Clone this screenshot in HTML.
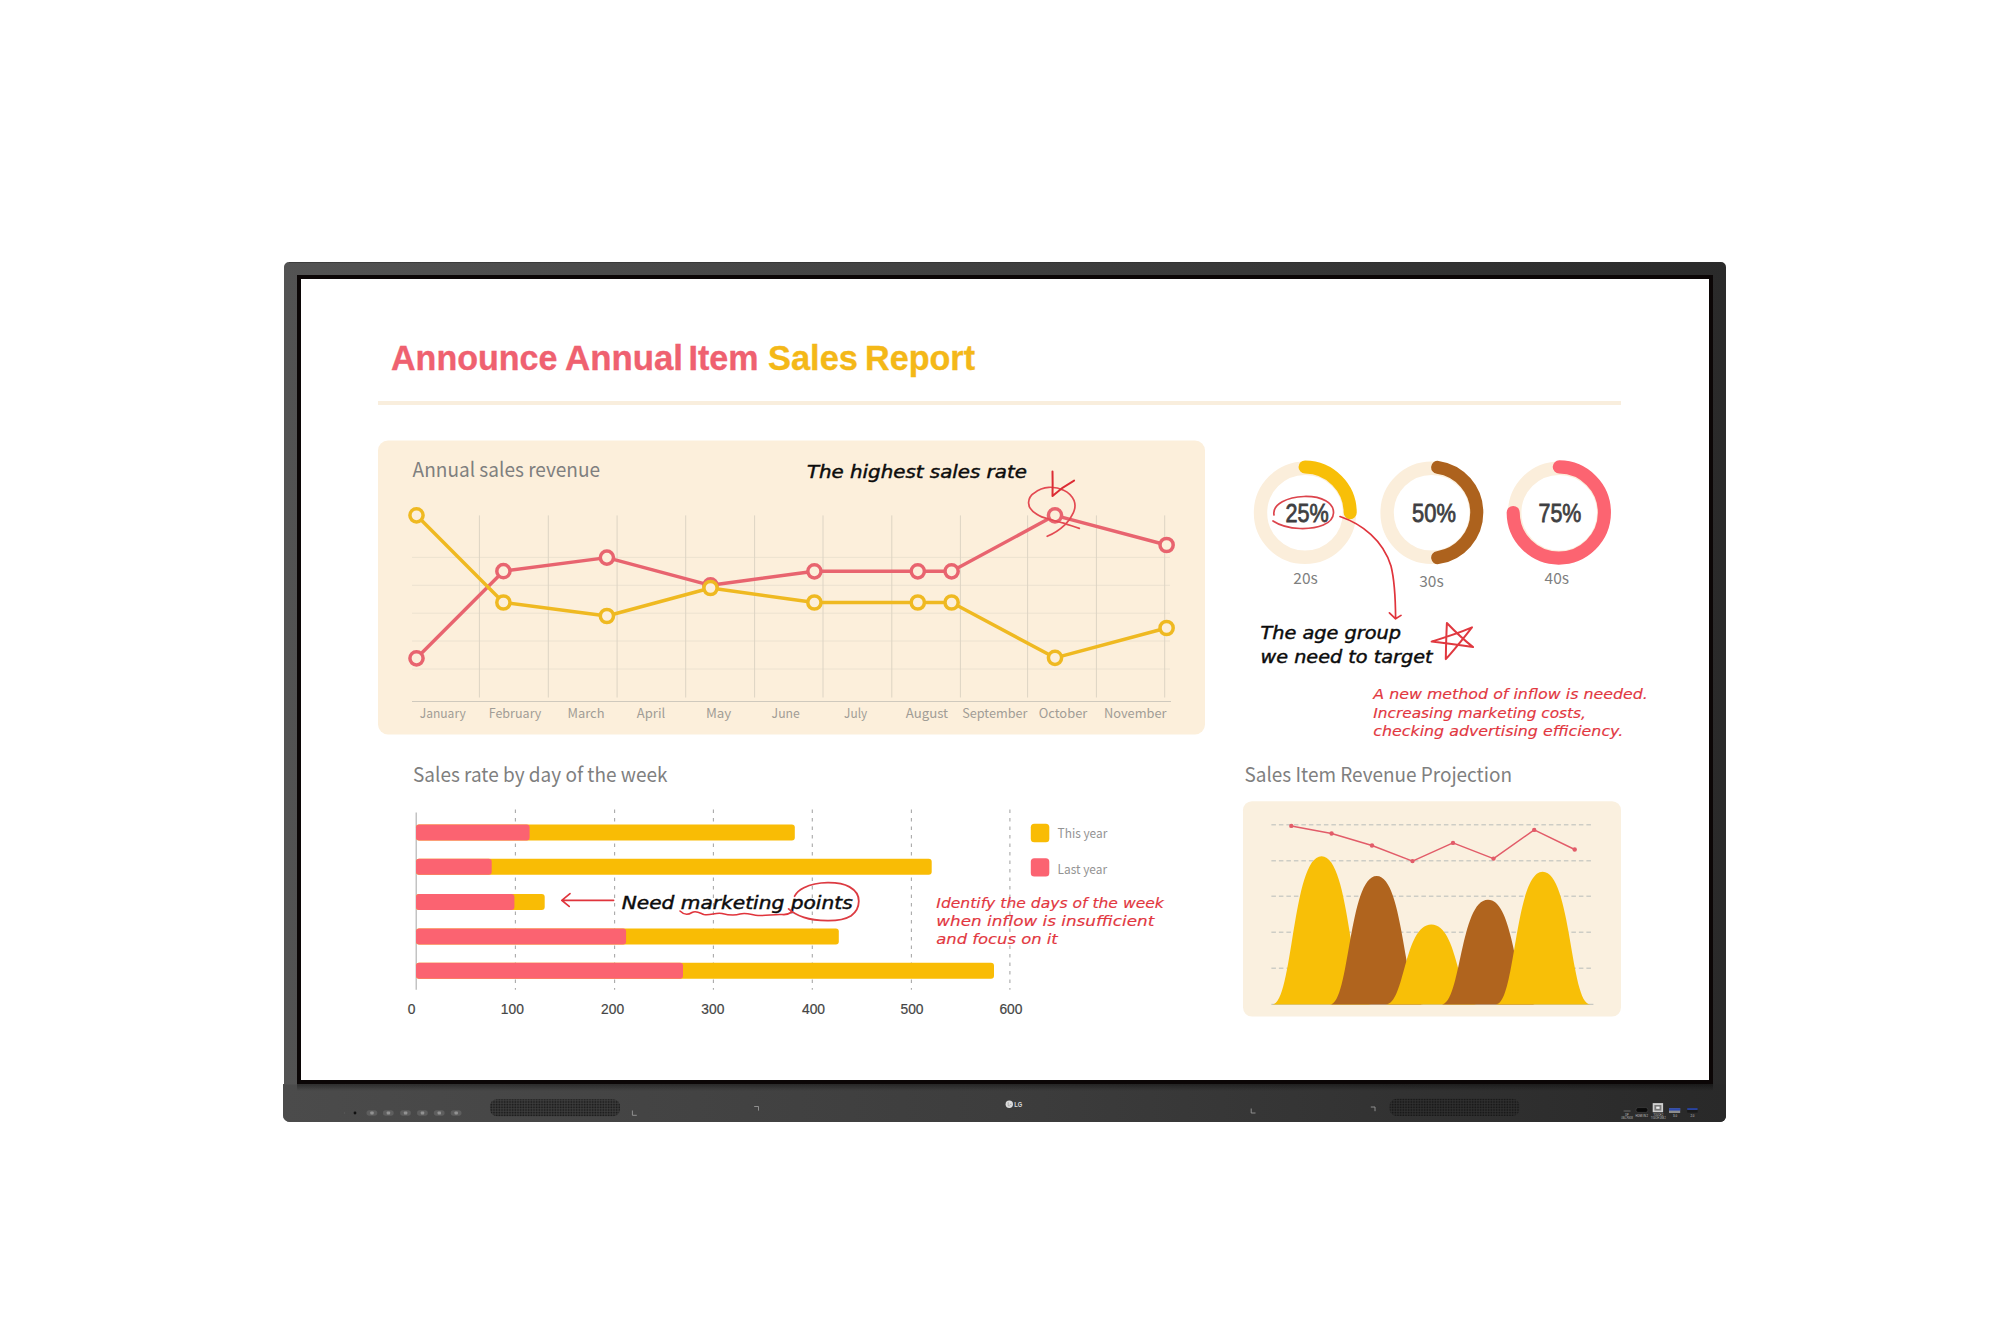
<!DOCTYPE html>
<html lang="en"><head><meta charset="utf-8"><title>Announce Annual Item Sales Report</title>
<style>
html,body{margin:0;padding:0;background:#fff;}
body{width:2010px;height:1334px;overflow:hidden;position:relative;}
svg{position:absolute;left:0;top:0;display:block;}
.g{font-family:"Noto Sans CJK KR","Noto Sans CJK SC","Liberation Sans",sans-serif;fill:#7f7f7f;}
.m{font-family:"Noto Sans CJK KR","Noto Sans CJK SC","Liberation Sans",sans-serif;fill:#a19d96;font-size:13px;}
.n{font-family:"Liberation Sans","DejaVu Sans",sans-serif;fill:#454545;font-size:13.8px;text-anchor:middle;stroke:#454545;stroke-width:.2px;}
.p{font-family:"Liberation Sans","DejaVu Sans",sans-serif;fill:#3f3f42;font-size:25.5px;stroke:#3f3f42;stroke-width:.8px;}
.hb{font-family:"DejaVu Sans","Liberation Sans",sans-serif;font-style:italic;fill:#0c0c0c;font-size:17.5px;stroke:#0c0c0c;stroke-width:.45px;}
.hr{font-family:"DejaVu Sans","Liberation Sans",sans-serif;font-style:italic;fill:#e2373f;font-size:13.5px;stroke:#e2373f;stroke-width:.15px;}
.t{font-family:"Liberation Sans","DejaVu Sans",sans-serif;font-weight:bold;font-size:35px;stroke-width:.35px;}
.pl{font-family:"Liberation Sans","DejaVu Sans",sans-serif;fill:#c9c9c9;font-size:2.6px;text-anchor:middle;}
</style></head><body>
<svg width="2010" height="1334" viewBox="0 0 2010 1334">
<defs>
<linearGradient id="fr" x1="0" y1="0" x2="1" y2="0"><stop offset="0" stop-color="#535353"/><stop offset=".5" stop-color="#3f3f3f"/><stop offset="1" stop-color="#2a2a2a"/></linearGradient>
<linearGradient id="fb" x1="0" y1="0" x2="1" y2="0"><stop offset="0" stop-color="#4b4b4b"/><stop offset=".5" stop-color="#3d3d3d"/><stop offset="1" stop-color="#292929"/></linearGradient>
<linearGradient id="sh" x1="0" y1="0" x2="0" y2="1"><stop offset="0" stop-color="#000" stop-opacity=".4"/><stop offset="1" stop-color="#000" stop-opacity="0"/></linearGradient>
<pattern id="dots" width="1.6" height="1.6" patternUnits="userSpaceOnUse"><rect width="1.6" height="1.6" fill="#414141"/><rect width="1" height="1" fill="#161616"/></pattern>
<pattern id="dots2" width="1.6" height="1.6" patternUnits="userSpaceOnUse"><rect width="1.6" height="1.6" fill="#333"/><rect width="1" height="1" fill="#131313"/></pattern>
</defs>

<g id="frame">
<path d="M289 262H1721a5 5 0 0 1 5 5V1116a6 6 0 0 1 -6 6H290a7 7 0 0 1 -7 -7V1084h1V267a5 5 0 0 1 5 -5z" fill="url(#fr)"/>
<path d="M283 1084.5H1726V1116a6 6 0 0 1 -6 6H290a7 7 0 0 1 -7 -7z" fill="url(#fb)"/>
<path d="M289 262.5H1721" stroke="#2b2b2b" stroke-width="1" opacity=".55" fill="none"/>
<rect x="297" y="1084" width="1416" height="7" fill="url(#sh)"/>
<rect x="297" y="275" width="1416" height="809" fill="#0b0606"/>
<rect x="301" y="279" width="1408" height="801" fill="#ffffff"/>
</g>
<g id="bar">
<circle cx="355" cy="1113" r="1.4" fill="#111"/>
<circle cx="344.5" cy="1113" r=".7" fill="#5c5c5c"/>
<rect x="366.5" y="1110.2" width="10.8" height="5.6" rx="2.8" fill="#5e5e5e"/>
<rect x="370.3" y="1111.4" width="3.4" height="3.2" rx=".8" fill="#929292"/>
<rect x="382.9" y="1110.2" width="10.8" height="5.6" rx="2.8" fill="#5e5e5e"/>
<rect x="386.7" y="1111.4" width="3.4" height="3.2" rx=".8" fill="#929292"/>
<rect x="400.1" y="1110.2" width="10.8" height="5.6" rx="2.8" fill="#5e5e5e"/>
<rect x="403.9" y="1111.4" width="3.4" height="3.2" rx=".8" fill="#929292"/>
<rect x="417.0" y="1110.2" width="10.8" height="5.6" rx="2.8" fill="#5e5e5e"/>
<rect x="420.8" y="1111.4" width="3.4" height="3.2" rx=".8" fill="#929292"/>
<rect x="433.8" y="1110.2" width="10.8" height="5.6" rx="2.8" fill="#5e5e5e"/>
<rect x="437.6" y="1111.4" width="3.4" height="3.2" rx=".8" fill="#929292"/>
<rect x="450.7" y="1110.2" width="10.8" height="5.6" rx="2.8" fill="#5e5e5e"/>
<rect x="454.5" y="1111.4" width="3.4" height="3.2" rx=".8" fill="#929292"/>
<rect x="490" y="1099.3" width="130" height="17" rx="7" fill="url(#dots)"/>
<rect x="1389.5" y="1098.8" width="130" height="17.2" rx="7" fill="url(#dots2)"/>
<path d="M632.4 1110.5V1115.3H636.8M754.2 1106.5H758.5V1110.6M1251.2 1108.5V1113H1255.5M1370.8 1107H1375V1111.2" fill="none" stroke="#999" stroke-width=".9"/>
<circle cx="1009.3" cy="1104.3" r="3.7" fill="#dcdcdc"/>
<path d="M1008.2 1102.2v3.6h1.7M1011.4 1104.4h-1.6" stroke="#8a8a8a" stroke-width=".6" fill="none"/>
<text x="1014.2" y="1106.8" font-family='"Liberation Sans","DejaVu Sans",sans-serif' font-weight="bold" font-size="7.4" fill="#dadada" textLength="8" lengthAdjust="spacingAndGlyphs">LG</text>
<rect x="1623.4" y="1110" width="7.4" height="1.9" rx=".9" fill="#4c4c4c"/>
<rect x="1636" y="1107.6" width="11.8" height="4.8" rx="2" fill="#0a0a0a" stroke="#4a4a4a" stroke-width=".6"/>
<rect x="1652.7" y="1103.1" width="10.4" height="9.1" fill="#cfcfcf"/>
<rect x="1654.4" y="1105" width="7" height="5.6" fill="#7a7a7a"/>
<rect x="1656.2" y="1106.6" width="3.4" height="2.2" fill="#ededed"/>
<rect x="1669" y="1108.2" width="11.2" height="4.8" fill="#8d8d8d"/><rect x="1669" y="1108.2" width="11.2" height="2.4" fill="#2c49ae"/>
<rect x="1687.2" y="1108.2" width="10.4" height="4.4" fill="#1a1a1a"/><rect x="1687.2" y="1108.2" width="10.4" height="1.7" fill="#2c49ae"/>
<text class="pl" x="1627" y="1116.2" textLength="3.4" lengthAdjust="spacingAndGlyphs">DP</text><text class="pl" x="1627" y="1118.6" textLength="11.6" lengthAdjust="spacingAndGlyphs">USB-C PD65W</text>
<text class="pl" x="1641.8" y="1117.4" textLength="12.6" lengthAdjust="spacingAndGlyphs">HDMI IN 2</text>
<text class="pl" x="1658.4" y="1116.2" textLength="10" lengthAdjust="spacingAndGlyphs">TOUCH 2</text><text class="pl" x="1658.4" y="1118.6" textLength="14.6" lengthAdjust="spacingAndGlyphs">TOUCH USB 2</text>
<text class="pl" x="1675" y="1117.4" textLength="4" lengthAdjust="spacingAndGlyphs">3.0</text><text class="pl" x="1692.4" y="1117.4" textLength="4" lengthAdjust="spacingAndGlyphs">2.0</text>
</g>
<g id="title">
<text class="t" x="391" y="369.5" fill="#ef6170" stroke="#ef6170" textLength="166.5" lengthAdjust="spacingAndGlyphs">Announce</text>
<text class="t" x="565" y="369.5" fill="#ef6170" stroke="#ef6170" textLength="118" lengthAdjust="spacingAndGlyphs">Annual</text>
<text class="t" x="688.5" y="369.5" fill="#ef6170" stroke="#ef6170" textLength="70.0" lengthAdjust="spacingAndGlyphs">Item</text>
<text class="t" x="768" y="369.5" fill="#f4b818" stroke="#f4b818" textLength="90" lengthAdjust="spacingAndGlyphs">Sales</text>
<text class="t" x="865" y="369.5" fill="#f4b818" stroke="#f4b818" textLength="110" lengthAdjust="spacingAndGlyphs">Report</text>
<rect x="378" y="401" width="1243" height="4" fill="#f9eedd"/>
</g>
<g id="linechart">
<rect x="378" y="440.5" width="827" height="294" rx="10" fill="#fcefdb"/>
<text class="g" x="412.6" y="477.2" font-size="20" textLength="187.5" lengthAdjust="spacingAndGlyphs">Annual sales revenue</text>
<path d="M412 557.4H1170M412 585.3H1170M412 613.2H1170M412 641H1170M412 669H1170" stroke="#ece2d0" stroke-width="1" fill="none"/>
<path d="M479.4 515.4V697.5M548.3 515.4V697.5M617.1 515.4V697.5M685.7 515.4V697.5M754.6 515.4V697.5M823 515.4V697.5M891.8 515.4V697.5M960.4 515.4V697.5M1027.6 515.4V697.5M1096.4 515.4V697.5M1164.7 515.4V697.5" stroke="#ddd4c4" stroke-width="1" fill="none"/>
<path d="M412 701.5H1171" stroke="#cfc9bd" stroke-width="1.2" fill="none"/>
<text class="m" x="419.7" y="717.5" textLength="46.0" lengthAdjust="spacingAndGlyphs">January</text>
<text class="m" x="488.7" y="717.5" textLength="52.7" lengthAdjust="spacingAndGlyphs">February</text>
<text class="m" x="567.5" y="717.5" textLength="37.0" lengthAdjust="spacingAndGlyphs">March</text>
<text class="m" x="636.8" y="717.5" textLength="28.4" lengthAdjust="spacingAndGlyphs">April</text>
<text class="m" x="705.9" y="717.5" textLength="25.4" lengthAdjust="spacingAndGlyphs">May</text>
<text class="m" x="771.6" y="717.5" textLength="28.2" lengthAdjust="spacingAndGlyphs">June</text>
<text class="m" x="844.1" y="717.5" textLength="23.1" lengthAdjust="spacingAndGlyphs">July</text>
<text class="m" x="905.7" y="717.5" textLength="42.4" lengthAdjust="spacingAndGlyphs">August</text>
<text class="m" x="962.2" y="717.5" textLength="65.3" lengthAdjust="spacingAndGlyphs">September</text>
<text class="m" x="1038.7" y="717.5" textLength="48.6" lengthAdjust="spacingAndGlyphs">October</text>
<text class="m" x="1104.0" y="717.5" textLength="62.6" lengthAdjust="spacingAndGlyphs">November</text>
<path d="M416.5 658.3L503.4 571.2L606.9 557.6L710.5 585.3L814.4 571.3L917.8 571.3L951.6 571.3L1055 515.3L1166.6 545" fill="none" stroke="#e8646f" stroke-width="3.45" stroke-linejoin="round"/>
<circle cx="416.5" cy="658.3" r="6.6" fill="#fcefdb" stroke="#e8646f" stroke-width="3.5"/>
<circle cx="503.4" cy="571.2" r="6.6" fill="#fcefdb" stroke="#e8646f" stroke-width="3.5"/>
<circle cx="606.9" cy="557.6" r="6.6" fill="#fcefdb" stroke="#e8646f" stroke-width="3.5"/>
<circle cx="710.5" cy="585.3" r="6.6" fill="#fcefdb" stroke="#e8646f" stroke-width="3.5"/>
<circle cx="814.4" cy="571.3" r="6.6" fill="#fcefdb" stroke="#e8646f" stroke-width="3.5"/>
<circle cx="917.8" cy="571.3" r="6.6" fill="#fcefdb" stroke="#e8646f" stroke-width="3.5"/>
<circle cx="951.6" cy="571.3" r="6.6" fill="#fcefdb" stroke="#e8646f" stroke-width="3.5"/>
<circle cx="1055" cy="515.3" r="6.6" fill="#fcefdb" stroke="#e8646f" stroke-width="3.5"/>
<circle cx="1166.6" cy="545" r="6.6" fill="#fcefdb" stroke="#e8646f" stroke-width="3.5"/>
<path d="M416.5 515.3L503.4 602.5L606.9 616L710.5 588L814.4 602.5L917.8 602.5L951.6 602.5L1055 657.8L1166.6 628" fill="none" stroke="#efb921" stroke-width="3.45" stroke-linejoin="round"/>
<circle cx="416.5" cy="515.3" r="6.6" fill="#fcefdb" stroke="#efb921" stroke-width="3.5"/>
<circle cx="503.4" cy="602.5" r="6.6" fill="#fcefdb" stroke="#efb921" stroke-width="3.5"/>
<circle cx="606.9" cy="616" r="6.6" fill="#fcefdb" stroke="#efb921" stroke-width="3.5"/>
<circle cx="710.5" cy="588" r="6.6" fill="#fcefdb" stroke="#efb921" stroke-width="3.5"/>
<circle cx="814.4" cy="602.5" r="6.6" fill="#fcefdb" stroke="#efb921" stroke-width="3.5"/>
<circle cx="917.8" cy="602.5" r="6.6" fill="#fcefdb" stroke="#efb921" stroke-width="3.5"/>
<circle cx="951.6" cy="602.5" r="6.6" fill="#fcefdb" stroke="#efb921" stroke-width="3.5"/>
<circle cx="1055" cy="657.8" r="6.6" fill="#fcefdb" stroke="#efb921" stroke-width="3.5"/>
<circle cx="1166.6" cy="628" r="6.6" fill="#fcefdb" stroke="#efb921" stroke-width="3.5"/>
<text class="hb" x="806.9" y="477.6" textLength="220" lengthAdjust="spacingAndGlyphs">The highest sales rate</text>
<path d="M1079.3 528.4C1074 526.5 1069 525 1063.7 523.1C1058 521.5 1053 520.5 1048.7 519C1044 517.8 1040 516.5 1036.8 514.2C1031.5 511 1028.2 507 1028.6 502.2C1029 498 1030.5 495.5 1033.8 493.3C1038 490 1043 487.5 1048.7 487.3C1054 487 1059 488 1063.7 490.3C1068.5 492.5 1072 496 1074.1 500.7C1075.6 504.5 1075.2 508.5 1073.4 512.7C1071.5 517 1069 521 1065.1 524.6C1060 529.5 1054 533.5 1047.2 536.3" fill="none" stroke="#e34a52" stroke-width="1.7" stroke-linecap="round" stroke-linejoin="round"/>
<path d="M1052.5 471.6C1052.7 480 1052.7 488 1052.5 496C1059 490 1066 485 1074.1 480.6" fill="none" stroke="#dc2c34" stroke-width="2" stroke-linecap="round" stroke-linejoin="round"/>
</g>
<g id="donuts">
<circle cx="1305.0" cy="512.8000000000001" r="44.5" fill="none" stroke="#fbeedb" stroke-width="13.4"/>
<path d="M1305.08 467.00A45.6 45.6 0 0 1 1350.20 512.60" fill="none" stroke="#f8bf08" stroke-width="13.1" stroke-linecap="round"/>
<circle cx="1431.6000000000001" cy="512.7" r="44.5" fill="none" stroke="#fbeedb" stroke-width="13.4"/>
<path d="M1437.70 467.37A45.6 45.6 0 0 1 1437.70 557.63" fill="none" stroke="#ad621d" stroke-width="13.1" stroke-linecap="round"/>
<circle cx="1559.2" cy="512.7" r="44.5" fill="none" stroke="#fbeedb" stroke-width="13.4"/>
<path d="M1559.28 466.90A45.6 45.6 0 1 1 1513.20 512.50" fill="none" stroke="#fc6471" stroke-width="13.1" stroke-linecap="round"/>
<text class="p" x="1285.4" y="522.3" textLength="43.2" lengthAdjust="spacingAndGlyphs">25%</text>
<text class="p" x="1412.1" y="522.3" textLength="43.8" lengthAdjust="spacingAndGlyphs">50%</text>
<text class="p" x="1538.5" y="522.3" textLength="42.8" lengthAdjust="spacingAndGlyphs">75%</text>
<text class="g" x="1305.6" y="584.4" font-size="15.5" text-anchor="middle">20s</text>
<text class="g" x="1431.5" y="586.9" font-size="15.5" text-anchor="middle">30s</text>
<text class="g" x="1556.8" y="584.4" font-size="15.5" text-anchor="middle">40s</text>
<path d="M1274 515C1272 504 1288 497 1304 496.5C1322 496 1334 503 1333.5 513C1333 524 1318 529 1300 528.5C1288 528 1279 525 1273 521" fill="none" stroke="#dc444c" stroke-width="1.7" stroke-linecap="round"/>
<path d="M1340 516.5C1362 524 1383 540 1391 566C1395 582 1395.5 600 1395.6 618.5M1389.4 612.8L1395.6 618.8L1401 615.4" fill="none" stroke="#e0343c" stroke-width="1.7" stroke-linecap="round" stroke-linejoin="round"/>
<text class="hb" x="1260.5" y="639" textLength="140.5" lengthAdjust="spacingAndGlyphs">The age group</text>
<text class="hb" x="1260.5" y="663.2" textLength="172" lengthAdjust="spacingAndGlyphs">we need to target</text>
<path d="M1446.9 623C1455 631.5 1464 640 1473.1 647.1C1459 645 1445 643 1431.6 641.6C1445 637.5 1459 633 1472 627.4C1463.5 638 1455 649 1445.8 659.1C1446 647 1446.3 635 1446.9 623z" fill="none" stroke="#e0383f" stroke-width="2" stroke-linecap="round" stroke-linejoin="round"/>
<text class="hr" x="1373.3" y="699.4" textLength="274.6" lengthAdjust="spacingAndGlyphs">A new method of inflow is needed.</text>
<text class="hr" x="1373.3" y="717.5" textLength="212.7" lengthAdjust="spacingAndGlyphs">Increasing marketing costs,</text>
<text class="hr" x="1373.3" y="736" textLength="250" lengthAdjust="spacingAndGlyphs">checking advertising efficiency.</text>
</g>
<g id="bars">
<text class="g" x="413" y="782.2" font-size="20" textLength="254.5" lengthAdjust="spacingAndGlyphs">Sales rate by day of the week</text>
<path d="M515.4 809.5V989.8M614.6 809.5V989.8M713.4 809.5V989.8M812.3 809.5V989.8M911.4 809.5V989.8M1009.9 809.5V989.8" stroke="#a9a9a9" stroke-width="1.1" stroke-dasharray="3.5 5" fill="none"/>
<path d="M416.2 812.5V989.8" stroke="#b4b4b4" stroke-width="1.2" fill="none"/>
<rect x="416" y="824.4" width="378.8" height="16" rx="3" fill="#f9bc05"/>
<rect x="416" y="824.4" width="113.6" height="16" rx="3" fill="#fb6371"/>
<rect x="416" y="858.8" width="515.7" height="16" rx="3" fill="#f9bc05"/>
<rect x="416" y="858.8" width="75.7" height="16" rx="3" fill="#fb6371"/>
<rect x="416" y="894" width="128.7" height="16" rx="3" fill="#f9bc05"/>
<rect x="416" y="894" width="98.4" height="16" rx="3" fill="#fb6371"/>
<rect x="416" y="928.4" width="422.8" height="16" rx="3" fill="#f9bc05"/>
<rect x="416" y="928.4" width="210.1" height="16" rx="3" fill="#fb6371"/>
<rect x="416" y="962.8" width="578.0" height="16" rx="3" fill="#f9bc05"/>
<rect x="416" y="962.8" width="267.0" height="16" rx="3" fill="#fb6371"/>
<text class="n" x="411.5" y="1014.4">0</text>
<text class="n" x="512.3" y="1014.4">100</text>
<text class="n" x="612.6" y="1014.4">200</text>
<text class="n" x="712.8" y="1014.4">300</text>
<text class="n" x="813.5" y="1014.4">400</text>
<text class="n" x="912" y="1014.4">500</text>
<text class="n" x="1010.9" y="1014.4">600</text>
<rect x="1030.8" y="823.8" width="18.5" height="18.4" rx="3.5" fill="#f9bc05"/>
<rect x="1030.8" y="858.2" width="18.5" height="18.4" rx="3.5" fill="#fb6371"/>
<text class="g" x="1057.6" y="837.9" font-size="12.8" style="fill:#939393" textLength="49.7" lengthAdjust="spacingAndGlyphs">This year</text>
<text class="g" x="1057.6" y="873.7" font-size="12.8" style="fill:#939393" textLength="49.4" lengthAdjust="spacingAndGlyphs">Last year</text>
<path d="M613.6 900.3H562M570 893.6L561.8 900.4L569.2 906.4" fill="none" stroke="#e0343c" stroke-width="1.7" stroke-linecap="round" stroke-linejoin="round"/>
<text class="hb" x="621.7" y="908.8" textLength="231" lengthAdjust="spacingAndGlyphs">Need marketing points</text>
<path d="M680 911C684 915 688 915 692 912.5C696 910 700 913 704 914.5C710 916 716 912 722 913.5C728 915 734 916 740 914C746 912 752 915 758 915.5C766 916 774 914 782 914.5C786 915 789 914 792 912" fill="none" stroke="#e0343c" stroke-width="1.6" stroke-linecap="round"/>
<path d="M794.6 896.2C796.5 892.5 799.5 890 803.9 887.8C811 884.3 819 882.8 827.6 882.7C836 882.6 844 883.8 849.5 886.9C855.5 890.3 858.9 895 858.8 901.3C858.7 907.5 856 912.3 851.2 915.7C845 919.5 837 920.8 827.6 920.7C819 920.6 811 919.8 803.9 917.4C797.5 915.3 792.5 912.5 788.6 908.9" fill="none" stroke="#dc3b42" stroke-width="1.8" stroke-linecap="round"/>
<text class="hr" x="936.3" y="907.5" textLength="227.5" lengthAdjust="spacingAndGlyphs">Identify the days of the week</text>
<text class="hr" x="936.3" y="926.3" textLength="218" lengthAdjust="spacingAndGlyphs">when inflow is insufficient</text>
<text class="hr" x="936.3" y="944.3" textLength="121.5" lengthAdjust="spacingAndGlyphs">and focus on it</text>
</g>
<g id="area">
<text class="g" x="1244.5" y="781.7" font-size="20" textLength="267.5" lengthAdjust="spacingAndGlyphs">Sales Item Revenue Projection</text>
<rect x="1243" y="801.2" width="378" height="215.4" rx="9" fill="#faf0df"/>
<path d="M1271.4 824.8H1593.4M1271.4 860.7H1593.4M1271.4 896.3H1593.4M1271.4 932.3H1593.4M1271.4 968.2H1593.4" stroke="#cdcdc6" stroke-width="1.4" stroke-dasharray="4.5 3" fill="none"/>
<path d="M1271.4 1004.4H1593.4" stroke="#c9c9c2" stroke-width="1.2" fill="none"/>
<path d="M1272.4 1004.4C1293.1 1004.4 1292.1 856.2 1321.6 856.2C1351.1 856.2 1350.1 1004.4 1370.8 1004.4z" fill="#f8bf07"/>
<path d="M1330.1 1004.4C1349.7 1004.4 1348.7 875.9 1376.7 875.9C1404.7 875.9 1403.7 1004.4 1423.3 1004.4z" fill="#b0641e"/>
<path d="M1385.8 1004.4C1405.0 1004.4 1404.0 924.4 1431.4 924.4C1458.7 924.4 1457.8 1004.4 1476.9 1004.4z" fill="#f8bf07"/>
<path d="M1441.5 1004.4C1461.0 1004.4 1460.1 899.7 1488 899.7C1516.0 899.7 1515.0 1004.4 1534.6 1004.4z" fill="#b0641e"/>
<path d="M1496.1 1004.4C1515.7 1004.4 1514.7 871.8 1542.7 871.8C1571.3 871.8 1570.3 1004.4 1590.3 1004.4z" fill="#f8bf07"/>
<path d="M1291.3 825.9L1331.6 833.5L1372 845.5L1412.5 861.1L1453 842.9L1493.5 858.6L1534.2 829.9L1574.7 849.5" fill="none" stroke="#e25c69" stroke-width="1.5" stroke-linejoin="round"/>
<circle cx="1291.3" cy="825.9" r="2.2" fill="#e25c69"/>
<circle cx="1331.6" cy="833.5" r="2.2" fill="#e25c69"/>
<circle cx="1372" cy="845.5" r="2.2" fill="#e25c69"/>
<circle cx="1412.5" cy="861.1" r="2.2" fill="#e25c69"/>
<circle cx="1453" cy="842.9" r="2.2" fill="#e25c69"/>
<circle cx="1493.5" cy="858.6" r="2.2" fill="#e25c69"/>
<circle cx="1534.2" cy="829.9" r="2.2" fill="#e25c69"/>
<circle cx="1574.7" cy="849.5" r="2.2" fill="#e25c69"/>
</g>
</svg>
</body></html>
